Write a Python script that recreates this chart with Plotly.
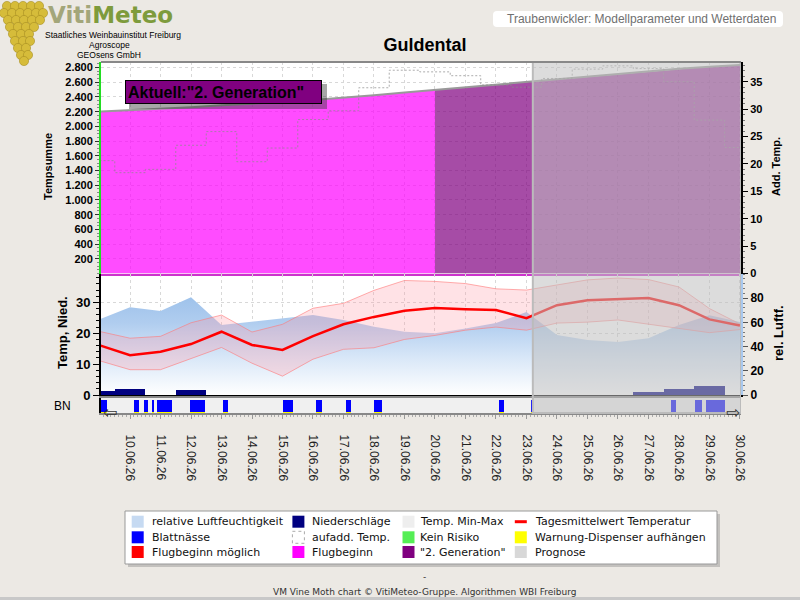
import plotly.graph_objects as go
import pandas as pd

# ---------------- data ----------------
days = ["2026-06-09", "2026-06-10", "2026-06-11", "2026-06-12", "2026-06-13", "2026-06-14",
        "2026-06-15", "2026-06-16", "2026-06-17", "2026-06-18", "2026-06-19", "2026-06-20",
        "2026-06-21", "2026-06-22", "2026-06-23", "2026-06-24", "2026-06-25", "2026-06-26",
        "2026-06-27", "2026-06-28", "2026-06-29", "2026-06-30"]
temp_mean = [16.1, 12.9, 14.0, 16.5, 20.5, 16.2, 14.6, 19.1, 22.9, 25.3, 27.3, 28.2,
             27.8, 27.5, 24.9, 29.1, 30.7, 31.1, 31.4, 29.1, 24.5, 22.5]
temp_max = [20.6, 18.4, 19.0, 23.4, 25.9, 20.4, 22.9, 28.1, 29.7, 33.9, 37.1, 36.8,
            36.1, 34.4, 34.0, 35.6, 37.3, 37.9, 37.4, 35.0, 28.0, 23.0]
temp_min = [11.1, 8.2, 8.2, 11.9, 15.4, 10.3, 6.1, 11.6, 14.8, 15.3, 18.0, 19.3,
            21.0, 22.0, 21.0, 23.3, 23.6, 24.3, 23.0, 21.5, 20.2, 21.2]
humidity = [62.5, 72.5, 69.4, 80.7, 57.9, 60.6, 63.4, 66.1, 62.0, 56.4, 52.3, 51.0,
            55.0, 59.5, 68.6, 49.6, 45.5, 43.8, 47.0, 57.9, 66.0, 60.3]
precip = [1.2, 2.0, 0.0, 1.6, 0.0, 0.0, 0.0, 0.0, 0.0, 0.0, 0.0, 0.0,
          0.0, 0.0, 0.0, 0.0, 0.0, 0.0, 1.1, 1.9, 2.9, 0.0]
temp_sum = [2200, 2218, 2237, 2261, 2287, 2307, 2330, 2358, 2388, 2422, 2459, 2496,
            2532, 2566, 2600, 2636, 2673, 2711, 2748, 2783, 2811, 2834]
bn_start = ["2026-06-09 00:00", "2026-06-10 03:00", "2026-06-10 11:00", "2026-06-10 17:00",
            "2026-06-10 21:00", "2026-06-11 23:00", "2026-06-13 01:00", "2026-06-15 00:00",
            "2026-06-16 02:00", "2026-06-17 02:00", "2026-06-18 00:00", "2026-06-22 02:00",
            "2026-06-23 04:00", "2026-06-27 18:00", "2026-06-28 13:00", "2026-06-28 21:00"]
bn_end = ["2026-06-09 06:00", "2026-06-10 07:00", "2026-06-10 14:00", "2026-06-10 19:00",
          "2026-06-11 09:00", "2026-06-12 11:00", "2026-06-13 05:00", "2026-06-15 08:00",
          "2026-06-16 07:00", "2026-06-17 06:00", "2026-06-18 06:00", "2026-06-22 06:00",
          "2026-06-23 05:00", "2026-06-27 22:00", "2026-06-28 18:00", "2026-06-29 12:00"]
gen2_start = "2026-06-20"
forecast_start = "2026-06-23 05:00"
x_range = ["2026-06-09 01:10", "2026-06-30 00:50"]
ts_tickvals = [200, 400, 600, 800, 1000, 1200, 1400, 1600, 1800, 2000, 2200, 2400, 2600, 2800]
ts_ticktext = ["200", "400", "600", "800", "1.000", "1.200", "1.400", "1.600", "1.800",
               "2.000", "2.200", "2.400", "2.600", "2.800"]
addtemp_ticks = [0, 5, 10, 15, 20, 25, 30, 35]
temp_ticks = [0, 10, 20, 30]
hum_ticks = [0, 20, 40, 60, 80]
legend_labels = [["relative Luftfeuchtigkeit", "Blattnässe", "Flugbeginn möglich"],
                 ["Niederschläge", "aufadd. Temp.", "Flugbeginn"],
                 ["Temp. Min-Max", "Kein Risiko", "\"2. Generation\""],
                 ["Tagesmittelwert Temperatur", "Warnung-Dispenser aufhängen", "Prognose"]]

# ---------------- geometry helpers ----------------
W, H = 800, 600
L, R, T, B = 101, 741, 62, 413


def P(x, y):
    return (x - L) / (R - L), (B - y) / (B - T)


FONT = "Liberation Sans, Arial, sans-serif"
VFONT = "DejaVu Sans, Verdana, sans-serif"

fig = go.Figure()

# ---------------- top panel ----------------
gi = days.index(gen2_start)
fig.add_trace(go.Scatter(x=days[:gi + 1], y=temp_sum[:gi + 1], mode="lines", fill="tozeroy",
                         fillcolor="rgba(255,0,255,0.7)", line=dict(width=0),
                         xaxis="x", yaxis="y", showlegend=False, hoverinfo="skip"))
fig.add_trace(go.Scatter(x=days[gi:], y=temp_sum[gi:], mode="lines", fill="tozeroy",
                         fillcolor="rgba(128,0,128,0.7)", line=dict(width=0),
                         xaxis="x", yaxis="y", showlegend=False, hoverinfo="skip"))
fig.add_trace(go.Scatter(x=days, y=temp_sum, mode="lines", line=dict(color="#999999", width=2),
                         xaxis="x", yaxis="y", showlegend=False, hoverinfo="skip"))
fig.add_trace(go.Scatter(x=days, y=temp_max, mode="lines",
                         line=dict(color="#8C8C8C", width=1, dash="2px,2px", shape="hvh"),
                         opacity=0.7,
                         xaxis="x", yaxis="y2", showlegend=False, hoverinfo="skip"))

# ---------------- middle panel ----------------
fig.add_trace(go.Scatter(x=days, y=humidity, mode="lines", fill="tozeroy", line=dict(width=0),
                         fillgradient=dict(type="vertical", start=0, stop=85,
                                           colorscale=[[0, "#FFFFFF"], [0.35, "#DAE8F8"],
                                                       [0.7, "#B0CDEF"], [1, "#9BC0EA"]]),
                         xaxis="x2", yaxis="y3", showlegend=False, hoverinfo="skip"))
fig.add_trace(go.Bar(x=days, y=precip, width=86400000, marker=dict(color="#000080", line=dict(width=0)),
                     xaxis="x2", yaxis="y4", showlegend=False, hoverinfo="skip"))
fig.add_trace(go.Scatter(x=days, y=temp_min, mode="lines", line=dict(color="rgba(255,120,120,0.6)", width=1),
                         xaxis="x2", yaxis="y4", showlegend=False, hoverinfo="skip"))
fig.add_trace(go.Scatter(x=days, y=temp_max, mode="lines", fill="tonexty",
                         fillcolor="rgba(255,150,165,0.28)",
                         line=dict(color="rgba(255,120,120,0.6)", width=1),
                         xaxis="x2", yaxis="y4", showlegend=False, hoverinfo="skip"))
fig.add_trace(go.Scatter(x=days, y=temp_mean, mode="lines", line=dict(color="#FF0000", width=2.5),
                         xaxis="x2", yaxis="y4", showlegend=False, hoverinfo="skip"))

# ---------------- BN strip ----------------
bn_w = [(pd.Timestamp(e) - pd.Timestamp(s)).total_seconds() * 1000 for s, e in zip(bn_start, bn_end)]
fig.add_trace(go.Bar(x=bn_start, y=[1] * len(bn_start), width=bn_w, offset=0,
                     marker=dict(color="#0000FF", line=dict(width=0)),
                     xaxis="x3", yaxis="y5", showlegend=False, hoverinfo="skip"))
fig.add_trace(go.Bar(x=bn_start, y=[0.07] * len(bn_start), width=bn_w, offset=0,
                     marker=dict(color="#FFFF00", line=dict(width=0)),
                     xaxis="x3", yaxis="y5", showlegend=False, hoverinfo="skip"))

# ---------------- axes ----------------
_, top_lo = P(0, 273.5)
_, mid_lo = P(0, 395)
_, mid_hi = P(0, 274)
_, bn_hi = P(0, 398)

grid = dict(showgrid=True, gridcolor="#D8D8D8", griddash="dot", gridwidth=1)
xcommon = dict(type="date", dtick=86400000, tick0="2026-06-09", zeroline=False)

fig.update_layout(
    xaxis=dict(domain=[0, 1], anchor="y", range=x_range, showticklabels=False, ticks="",
               showline=True, linecolor="#CC33CC", linewidth=2, **grid, **xcommon),
    xaxis2=dict(domain=[0, 1], anchor="y3", matches="x", showticklabels=False, ticks="",
                showline=True, linecolor="#000000", linewidth=2, **grid, **xcommon),
    xaxis3=dict(domain=[0, 1], anchor="y5", matches="x", showgrid=False, tickformat="%d.%m.%y",
                tickangle=90, ticks="outside", ticklen=4, tickcolor="#999999", ticklabelstandoff=13,
                tickfont=dict(family=FONT, size=12, color="#222222"),
                minor=dict(ticks="outside", dtick=10800000, ticklen=2, tickcolor="#AAAAAA"),
                showline=True, linecolor="#888888", linewidth=2, mirror=True, **xcommon),
    yaxis=dict(domain=[top_lo, 1], anchor="x", range=[0, 2875], tickmode="array",
               tickvals=ts_tickvals, ticktext=ts_ticktext, ticks="outside", ticklen=4, tickcolor="#333333",
               minor=dict(ticks="outside", tickmode="linear", tick0=0, dtick=50, ticklen=2, tickcolor="#888888"),
               tickfont=dict(family=FONT, size=11, color="black", weight="bold"),
               showline=True, linecolor="#22DD22", linewidth=2, zeroline=False, **grid),
    yaxis2=dict(overlaying="y", anchor="x", side="right", range=[0, 38.6], tickmode="array",
                tickvals=addtemp_ticks, ticks="outside", ticklen=5, tickcolor="#000000",
                minor=dict(ticks="outside", tickmode="linear", tick0=0, dtick=1, ticklen=2, tickcolor="#777777"),
                tickfont=dict(family=FONT, size=11, color="black", weight="bold"),
                showline=True, linecolor="#000000", linewidth=2, showgrid=False, zeroline=False),
    yaxis3=dict(domain=[mid_lo, mid_hi], anchor="x2", side="right", range=[0, 100], tickmode="array",
                tickvals=hum_ticks, ticks="outside", ticklen=5, tickcolor="#555555",
                minor=dict(ticks="outside", tickmode="linear", tick0=0, dtick=4, ticklen=2, tickcolor="#777777"),
                tickfont=dict(family=FONT, size=12, color="black", weight="bold"),
                showline=True, linecolor="#A8C8EE", linewidth=2, showgrid=False, zeroline=False),
    yaxis4=dict(overlaying="y3", anchor="x2", side="left", range=[0, 39.2], tickmode="array",
                tickvals=temp_ticks, ticks="outside", ticklen=6, tickcolor="#000000",
                minor=dict(ticks="outside", tickmode="linear", tick0=0, dtick=2, ticklen=3, tickcolor="#000000"),
                tickfont=dict(family=FONT, size=13, color="black", weight="bold"),
                showline=True, linecolor="#000000", linewidth=2, zeroline=False, **grid),
    yaxis5=dict(domain=[0, bn_hi], anchor="x3", range=[0, 1.13], showticklabels=False, ticks="",
                showgrid=False, zeroline=False, showline=True, linecolor="#000000", linewidth=2),
)

# ---------------- shapes ----------------
shapes = []


def rect_px(x0, y0, x1, y1, **kw):
    a, b = P(x0, y0)
    c, d = P(x1, y1)
    s = dict(type="rect", xref="paper", yref="paper", x0=a, y0=b, x1=c, y1=d)
    s.update(kw)
    return s


# BN strip background
shapes.append(dict(type="rect", xref="paper", yref="paper", x0=0, x1=1, y0=0, y1=bn_hi,
                   fillcolor="#F0F0F0", line=dict(width=0), layer="below"))
# forecast overlay
shapes.append(dict(type="rect", xref="x", yref="paper", x0=forecast_start, x1=x_range[1], y0=0, y1=1,
                   fillcolor="rgba(192,192,192,0.55)", line=dict(color="#BBBBBB", width=2), layer="above"))
# top border
shapes.append(dict(type="line", xref="paper", yref="paper", x0=0, x1=1, y0=1, y1=1,
                   line=dict(color="#888888", width=2), layer="above"))
# Aktuell box shadow
shapes.append(rect_px(129, 84, 327, 109, fillcolor="rgba(60,60,60,0.45)", line=dict(width=0), layer="above"))

# subtitle rounded box
x0, y0 = P(493, 27)
x1, y1 = P(783, 11)
rx, ry = 4 / (R - L), 4 / (B - T)
path = (f"M {x0 + rx},{y0} L {x1 - rx},{y0} Q {x1},{y0} {x1},{y0 + ry} L {x1},{y1 - ry} "
        f"Q {x1},{y1} {x1 - rx},{y1} L {x0 + rx},{y1} Q {x0},{y1} {x0},{y1 - ry} L {x0},{y0 + ry} "
        f"Q {x0},{y0} {x0 + rx},{y0} Z")
shapes.append(dict(type="path", xref="paper", yref="paper", path=path, fillcolor="white",
                   line=dict(width=0), layer="above"))

# grape cluster (logo decoration)
grape_rows = [(6, [7, 15, 23, 31, 39]), (13, [4, 12, 20, 28, 36, 43]), (20, [8, 16, 24, 32, 40]),
              (27, [10, 18, 26, 34]), (34, [13, 21, 29]), (41, [15, 23, 30]), (48, [18, 26]),
              (55, [21, 28]), (61, [24])]
for gy, gxs in grape_rows:
    for gx in gxs:
        shapes.append(dict(type="circle", xref="paper", yref="paper",
                           x0=P(gx - 4.6, 0)[0], x1=P(gx + 4.6, 0)[0],
                           y0=P(0, gy + 4.6)[1], y1=P(0, gy - 4.6)[1],
                           fillcolor="#D6BC3A", line=dict(color="#A88E22", width=0.6), layer="above"))

# legend box + symbols
shapes.append(rect_px(128, 514, 720, 567, fillcolor="rgba(120,120,120,0.35)", line=dict(width=0), layer="above"))
shapes.append(rect_px(125, 511, 717, 564, fillcolor="white", line=dict(color="#999999", width=1), layer="above"))
col_sym = [137.7, 298.4, 408.5, 520.8]
col_txt = [149.5, 309.7, 418.0, 532.6]
row_y = [521.7, 537.3, 552.0]
sym_style = [[dict(fillcolor="#C6DAF2", line=dict(width=0)),
              dict(fillcolor="#0000FF", line=dict(width=0)),
              dict(fillcolor="#FF0000", line=dict(width=0))],
             [dict(fillcolor="#000080", line=dict(width=0)),
              dict(fillcolor="white", line=dict(color="#AAAAAA", width=1, dash="dot")),
              dict(fillcolor="#FF00FF", line=dict(width=0))],
             [dict(fillcolor="#EEEEEE", line=dict(width=0)),
              dict(fillcolor="#55EE55", line=dict(width=0)),
              dict(fillcolor="#800080", line=dict(width=0))],
             [None,
              dict(fillcolor="#FFFF00", line=dict(width=0)),
              dict(fillcolor="#D8D8D8", line=dict(width=0))]]
for ci in range(4):
    for ri in range(3):
        cx, cy = col_sym[ci], row_y[ri]
        st = sym_style[ci][ri]
        if st is None:
            a, b = P(cx - 6, cy)
            c, _ = P(cx + 6, cy)
            shapes.append(dict(type="line", xref="paper", yref="paper", x0=a, x1=c, y0=b, y1=b,
                               line=dict(color="#FF0000", width=3), layer="above"))
        else:
            shapes.append(rect_px(cx - 6, cy - 6, cx + 6, cy + 6, layer="above", **st))

# bottom strip
shapes.append(rect_px(0, 597, 800, 600, fillcolor="#C8C8C8", line=dict(width=0), layer="above"))

# ---------------- annotations ----------------
anns = []


def ann(text, x, y, size, color="black", family=FONT, xanchor="center", yanchor="middle",
        weight="normal", angle=0, **kw):
    a, b = P(x, y)
    d = dict(text=text, x=a, y=b, xref="paper", yref="paper", showarrow=False,
             xanchor=xanchor, yanchor=yanchor, textangle=angle,
             font=dict(family=family, size=size, color=color, weight=weight))
    d.update(kw)
    anns.append(d)


# axis titles
ann("Tempsumme", 48, 167, 11, weight="bold", angle=-90)
ann("Temp, Nied.", 62, 333, 13, weight="bold", angle=-90)
ann("Add. Temp.", 776, 167, 11, weight="bold", angle=-90)
ann("rel. Luftf.", 778, 333, 13, weight="bold", angle=-90)
ann("BN", 62, 406, 12)
ann("\u21e6", 110, 412, 17, color="#333333", family=VFONT)
ann("\u21e8", 733, 412, 17, color="#333333", family=VFONT)

# current status box
ann("Aktuell:\"2. Generation\"", 125, 91.8, 16, weight="bold", xanchor="left",
    bgcolor="#800080", bordercolor="#000000", borderwidth=1, borderpad=2,
    width=191, height=18, align="left")

# logo
ann("<span style='color:#A3A67A'>Viti</span><span style='color:#7E9B3C'>Meteo</span>",
    46, 0.5, 23, family=VFONT, weight="bold", xanchor="left", yanchor="top")
ann("Staatliches Weinbauinstitut Freiburg", 113, 35.5, 8.5)
ann("Agroscope", 109, 45.5, 8.5)
ann("GEOsens GmbH", 109, 55.5, 8.5)

# subtitle
ann("Traubenwickler: Modellparameter und Wetterdaten", 505, 19, 12, color="#707070", xanchor="left")

# legend texts
for ci in range(4):
    for ri in range(3):
        ann(legend_labels[ci][ri], col_txt[ci], row_y[ri], 11, color="#111111", family=VFONT,
            xanchor="left")

# footer
ann("-", 424, 577, 9, color="#333333", family=VFONT)
ann("VM Vine Moth chart \u00a9 VitiMeteo-Gruppe. Algorithmen WBI Freiburg", 424.5, 592, 9,
    color="#333333", family=VFONT)

fig.update_layout(
    width=W, height=H, margin=dict(l=L, r=W - R, t=T, b=H - B, autoexpand=False),
    paper_bgcolor="#ECE9E4", plot_bgcolor="white", barmode="overlay", bargap=0,
    font=dict(family=FONT, size=12, color="black"),
    title=dict(text="Guldental", x=425 / W, y=1 - 45 / H, xref="container", yref="container",
               xanchor="center", yanchor="middle",
               font=dict(family=FONT, size=18, color="black", weight="bold")),
    shapes=shapes, annotations=anns, showlegend=False, hovermode=False,
)

fig.write_html("out.html")
